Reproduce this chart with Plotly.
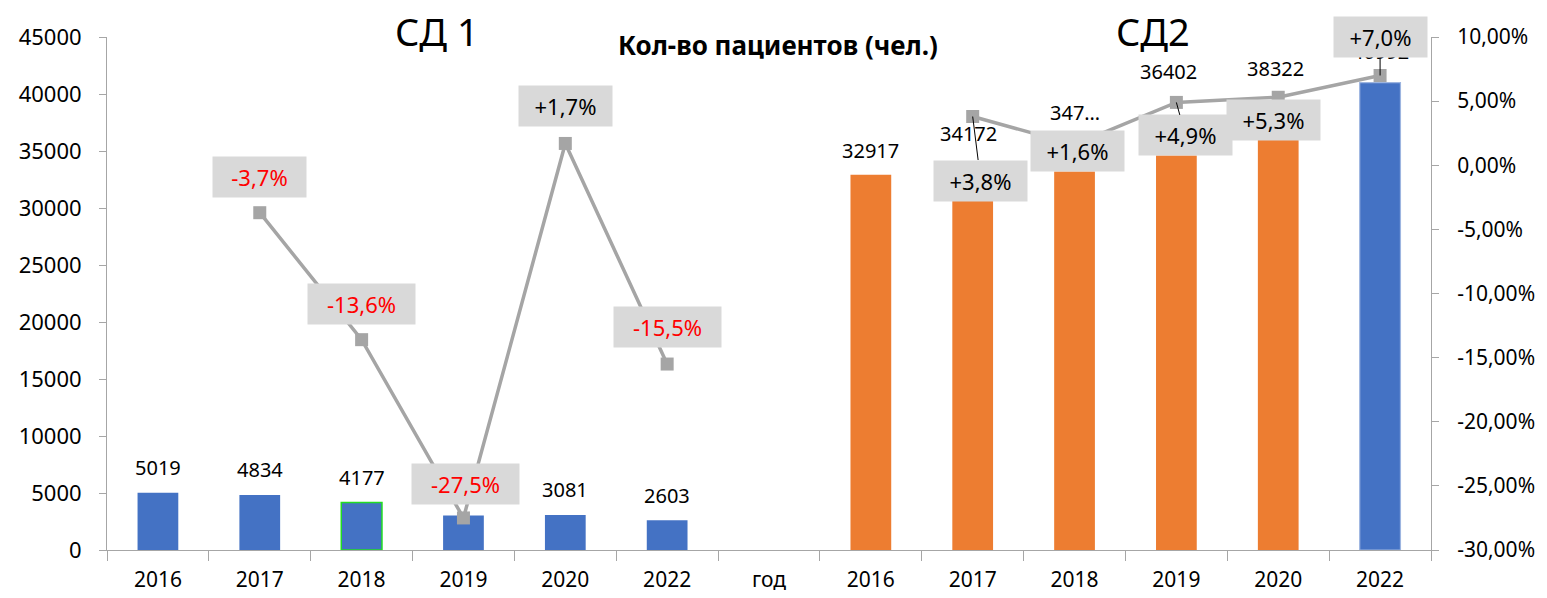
import plotly.graph_objects as go

# ---------------- data ----------------
categories = ["2016", "2017", "2018", "2019", "2020", "2022", "год",
              "2016", "2017", "2018", "2019", "2020", "2022"]

# СД 1 bars (patients)
sd1_values = [5019, 4834, 4177, 3028, 3081, 2603]
sd1_labels = ["5019", "4834", "4177", "", "3081", "2603"]

# СД 2 bars (heights as drawn) and their printed labels
sd2_values = [32917, 31300, 33200, 34600, 36300, 40992]
sd2_labels = ["32917", "34172", "347…", "36402", "38322", "40992"]

# year-over-year change, % (secondary axis), None = no point
change_pct = [None, -3.7, -13.6, -27.5, 1.7, -15.5, None,
              None, 3.8, 1.6, 4.9, 5.3, 7.0]
change_labels = [None, "-3,7%", "-13,6%", "-27,5%", "+1,7%", "-15,5%", None,
                 None, "+3,8%", "+1,6%", "+4,9%", "+5,3%", "+7,0%"]

left_ticks = [0, 5000, 10000, 15000, 20000, 25000, 30000, 35000, 40000, 45000]
right_ticks = [-30, -25, -20, -15, -10, -5, 0, 5, 10]

title_text = "Кол-во пациентов (чел.)"
group_titles = ["СД 1", "СД2"]

# ---------------- styles ----------------
BLUE = "#4472C4"
ORANGE = "#ED7D31"
GRAY = "#A5A5A5"
BOX = "#D9D9D9"
AXIS = "#A6A6A6"
FONT = "Noto Sans"

x_all = list(range(len(categories)))
x_sd1 = x_all[0:6]
x_sd2 = x_all[7:13]

sd2_colors = [ORANGE] * 5 + [BLUE]
sd1_line_colors = ["rgba(0,0,0,0)", "rgba(0,0,0,0)", "#22DD22",
                   "rgba(0,0,0,0)", "rgba(0,0,0,0)", "rgba(0,0,0,0)"]
sd1_line_widths = [0, 0, 1.5, 0, 0, 0]
sd2_line_colors = ["rgba(0,0,0,0)"] * 5 + ["#9DB5E0"]
sd2_line_widths = [0] * 5 + [1.2]

# label offsets in pixels (dx, dy screen)
sd1_label_shift = [(0, 25)] * 6
sd2_label_shift = [(0, 24), (-4, 60), (0, 59), (-8, 84), (-3, 68), (0, 31)]
pct_offsets = {1: (0, -36), 2: (0, -36), 3: (2, -34), 4: (0, -37), 5: (0, -37),
               8: (8, 64), 9: (3, 6), 10: (9, 33), 11: (-5, 23), 12: (0, -38)}
pct_leader = {8, 10, 12}

# page geometry (body has an 8px margin)
OFF = 8
W, H = 1531, 582
PL, PR, PT, PB = 107, 1431, 37, 550          # plot area in page pixels
ML, MT = PL - OFF, PT - OFF
MR = OFF + W - PR
MB = OFF + H - PB

fig = go.Figure()

fig.add_trace(go.Bar(
    x=x_sd1, y=sd1_values, width=0.4,
    marker=dict(color=BLUE, line=dict(color=sd1_line_colors, width=sd1_line_widths)),
    showlegend=False, hoverinfo="skip"))
fig.add_trace(go.Bar(
    x=x_sd2, y=sd2_values, width=0.4,
    marker=dict(color=sd2_colors, line=dict(color=sd2_line_colors, width=sd2_line_widths)),
    showlegend=False, hoverinfo="skip"))
fig.add_trace(go.Scatter(
    x=x_all, y=change_pct, yaxis="y2", mode="lines+markers",
    line=dict(color=GRAY, width=3.5),
    marker=dict(symbol="square", size=13, color=GRAY),
    connectgaps=False, showlegend=False, hoverinfo="skip"))

annotations = []
# bar value labels
for xi, v, t, (dx, dy) in zip(x_sd1, sd1_values, sd1_labels, sd1_label_shift):
    if t:
        annotations.append(dict(x=xi, y=v, xref="x", yref="y", text=t,
                                showarrow=False, xshift=dx, yshift=dy,
                                font=dict(family=FONT, size=20, color="#000000")))
for xi, v, t, (dx, dy) in zip(x_sd2, sd2_values, sd2_labels, sd2_label_shift):
    annotations.append(dict(x=xi, y=v, xref="x", yref="y", text=t,
                            showarrow=False, xshift=dx, yshift=dy,
                            font=dict(family=FONT, size=20, color="#000000")))
# percent labels
for xi, v, t in zip(x_all, change_pct, change_labels):
    if v is None:
        continue
    dx, dy = pct_offsets[xi]
    annotations.append(dict(
        x=xi, y=v, xref="x", yref="y2", text=t,
        showarrow=True, arrowhead=0, arrowwidth=1,
        arrowcolor="#000000" if xi in pct_leader else "rgba(0,0,0,0)",
        ax=dx, ay=dy, axref="pixel", ayref="pixel",
        bgcolor=BOX, borderpad=5, width=14 * len(t) + 13, height=30,
        font=dict(family=FONT, size=22, color="#FF0000" if v < 0 else "#000000")))

# titles (page pixel positions -> paper coords)
ann_titles = [
    dict(px=778, py=45, text="<b>" + title_text + "</b>", size=26),
    dict(px=437, py=31, text=group_titles[0], size=38),
    dict(px=1153, py=31, text=group_titles[1], size=38),
]
for a in ann_titles:
    annotations.append(dict(
        x=(a["px"] - PL) / (PR - PL), y=(PB - a["py"]) / (PB - PT),
        xref="paper", yref="paper", text=a["text"], showarrow=False,
        xanchor="center", yanchor="middle",
        font=dict(family=FONT, size=a["size"], color="#000000")))

fig.update_layout(
    width=W, height=H,
    margin=dict(l=ML, r=MR, t=MT, b=MB, pad=0, autoexpand=False),
    paper_bgcolor="white", plot_bgcolor="white",
    font=dict(family=FONT, size=20, color="#000000"),
    annotations=annotations,
    xaxis=dict(
        range=[-0.5, 12.5], tickmode="array", tickvals=x_all, ticktext=categories,
        ticks="", showgrid=False, zeroline=False, automargin=False,
        showline=True, linecolor=AXIS, linewidth=1,
        tickfont=dict(family=FONT, size=21, color="#000000"),
        ticklabelstandoff=11,
        minor=dict(tickmode="array", tickvals=[i - 0.5 for i in range(len(categories) + 1)],
                   ticks="outside", ticklen=10, tickcolor=AXIS, tickwidth=1, showgrid=False),
    ),
    yaxis=dict(
        range=[0, 45000], tickmode="array", tickvals=left_ticks,
        ticktext=[str(v) for v in left_ticks], automargin=False,
        ticks="outside", ticklen=7, tickcolor=AXIS, showgrid=False, zeroline=False,
        showline=True, linecolor=AXIS, linewidth=1,
        tickfont=dict(family=FONT, size=22, color="#000000"),
        ticklabelstandoff=13,
    ),
    yaxis2=dict(
        overlaying="y", side="right", range=[-30, 10], tickmode="array",
        tickvals=right_ticks, automargin=False,
        ticktext=[("%.2f%%" % v).replace(".", ",") for v in right_ticks],
        ticks="outside", ticklen=7, tickcolor=AXIS, showgrid=False, zeroline=False,
        showline=True, linecolor=AXIS, linewidth=1,
        tickfont=dict(family=FONT, size=21, color="#000000"),
        ticklabelstandoff=14,
    ),
)

fig.write_html("out.html")
